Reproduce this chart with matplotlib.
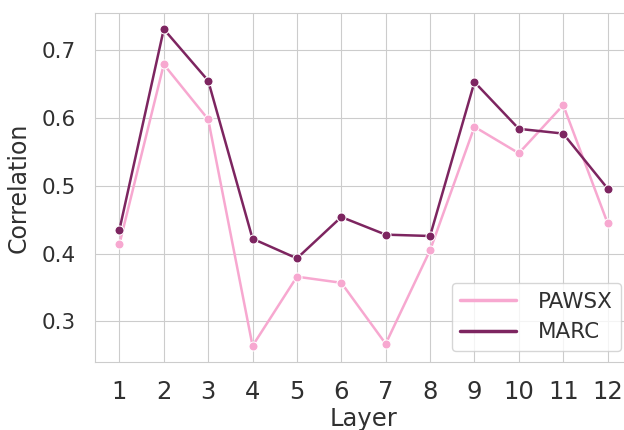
import numpy as np
import pandas as pd
import seaborn as sns
import matplotlib
matplotlib.use("Agg")
import matplotlib.pyplot as plt
from matplotlib.lines import Line2D

layers = list(range(1, 13))
pawsx = [0.414, 0.679, 0.598, 0.264, 0.366, 0.357, 0.267, 0.405, 0.587, 0.548, 0.619, 0.445]
marc = [0.435, 0.731, 0.655, 0.422, 0.393, 0.454, 0.428, 0.426, 0.653, 0.584, 0.577, 0.496]

colors = {"PAWSX": "#f7a8d0", "MARC": "#7d2560"}

sns.set_style("whitegrid")
plt.rcParams["font.family"] = ["DejaVu Sans"]
plt.rcParams["text.color"] = "#303030"
plt.rcParams["axes.labelcolor"] = "#303030"
plt.rcParams["xtick.color"] = "#303030"
plt.rcParams["ytick.color"] = "#303030"

df = pd.DataFrame({"Layer": layers * 2,
                   "Correlation": pawsx + marc,
                   "Task": ["PAWSX"] * 12 + ["MARC"] * 12})

fig = plt.figure(figsize=(6.24, 4.30), dpi=100)
ax = fig.add_axes([95 / 624, 1 - 361.7 / 430, (632 - 95) / 624, (361.7 - 13.3) / 430])

sns.lineplot(data=df, x="Layer", y="Correlation", hue="Task", palette=colors,
             marker="o", markersize=6.5, linewidth=1.8, ax=ax)

ax.set_xticks(layers)
ax.tick_params(axis="x", labelsize=17.5, pad=10)
ax.tick_params(axis="y", labelsize=15.5, pad=10)
ax.set_xlabel("Layer", fontsize=17.5, labelpad=2)
ax.set_ylabel("Correlation", fontsize=17, labelpad=8)

# legend with plain line handles
handles = [Line2D([], [], color=colors[k], linewidth=2.5) for k in ["PAWSX", "MARC"]]
ax.legend(handles, ["PAWSX", "MARC"], loc="lower right", fontsize=15.5,
          handlelength=2.6, handletextpad=1.0)

fig.savefig("out.png", dpi=100)
